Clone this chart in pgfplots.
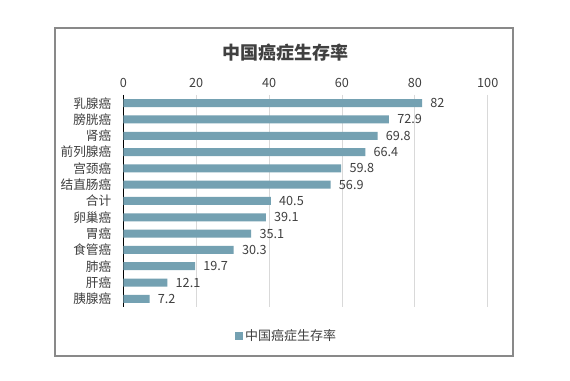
\documentclass[border=0pt]{standalone}
\usepackage{pgfplots}
\pgfplotsset{compat=1.18}
\usepackage{fontspec}
\setmainfont{Noto Sans CJK SC}
\definecolor{barc}{RGB}{116,161,178}
\definecolor{framec}{RGB}{137,137,137}
\definecolor{gridc}{RGB}{217,217,217}
\definecolor{txtc}{RGB}{64,64,64}
\begin{document}
\begin{tikzpicture}
\path[use as bounding box] (0,0) rectangle (427.5pt,285.75pt);
\fill[white] (0,0) rectangle (427.5pt,285.75pt);
\draw[framec, line width=0.9pt] (41.25pt,18.75pt) rectangle (384.75pt,264.75pt);
\node[font=\fontsize{13.5}{15}\selectfont\bfseries, text=txtc] at (213.75pt,246pt) {中国癌症生存率};
\begin{axis}[
  at={(92.5pt,55.5pt)}, anchor=south west,
  scale only axis, width=273.3pt, height=159pt,
  xbar, bar width=6pt,
  xmin=0, xmax=100, ymin=-0.5, ymax=12.5, y dir=reverse,
  xtick={0,20,40,60,80,100},
  ytick={0,1,2,3,4,5,6,7,8,9,10,11,12},
  yticklabels={乳腺癌,膀胱癌,肾癌,前列腺癌,宫颈癌,结直肠癌,合计,卵巢癌,胃癌,食管癌,肺癌,肝癌,胰腺癌},
  axis x line*=top, axis y line*=left,
  x axis line style={draw=none},
  y axis line style={-, black, line width=0.8pt},
  xmajorgrids, grid style={gridc, line width=0.7pt},
  major tick length=0pt,
  tick label style={font=\fontsize{9.5}{11}\selectfont, text=txtc},
  yticklabel style={xshift=-5.5pt},
  xticklabel style={yshift=2pt},
  /pgf/number format/assume math mode=true,
  nodes near coords,
  nodes near coords style={font=\fontsize{9.5}{11}\selectfont, text=txtc, anchor=west, inner sep=0pt, xshift=6pt},
  legend style={at={(0.449,-0.137)}, anchor=center, draw=none, fill=none,
    font=\fontsize{9.75}{11}\selectfont, text=txtc},
  legend image code/.code={\fill[barc] (0pt,-2.8pt) rectangle (5.6pt,2.8pt);},
]
\addplot[fill=barc, draw=none] coordinates {
(82,0) (72.9,1) (69.8,2) (66.4,3) (59.8,4) (56.9,5) (40.5,6) (39.1,7) (35.1,8) (30.3,9) (19.7,10) (12.1,11) (7.2,12)
};
\legend{中国癌症生存率}
\end{axis}
\end{tikzpicture}
\end{document}
